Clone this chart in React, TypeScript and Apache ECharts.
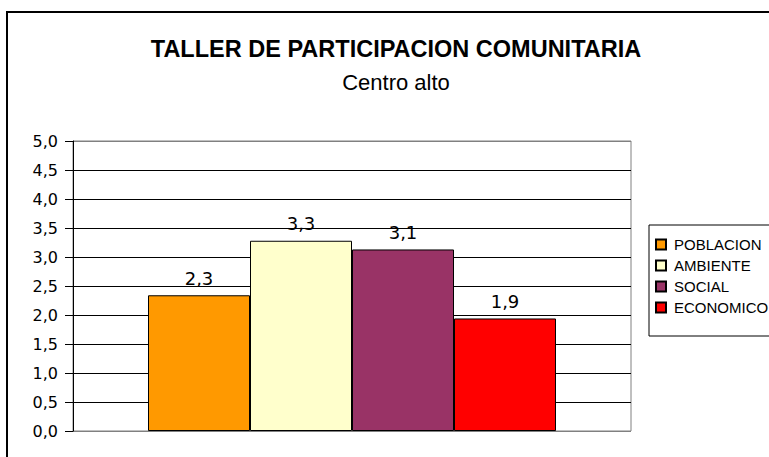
import React, { useEffect, useRef } from "react";
import * as echarts from "echarts";

const seriesNames = ["POBLACION", "AMBIENTE", "SOCIAL", "ECONOMICO"];
const seriesValues = [2.34, 3.28, 3.13, 1.94];
const seriesColors = ["#FF9900", "#FFFFCC", "#993366", "#FF0000"];
const categories = [""];
const titleText = "TALLER DE PARTICIPACION COMUNITARIA";
const subtitleText = "Centro alto";

const fmt = (v: number) => v.toFixed(1).replace(".", ",");

export default function App() {
  const ref = useRef<HTMLDivElement>(null);
  useEffect(() => {
    document.documentElement.style.overflow = "hidden";
    document.body.style.overflow = "hidden";
    const chart = echarts.init(ref.current!, undefined, { renderer: "svg" });
    const font = "'Liberation Sans', Arial, sans-serif";
    const numFont = "'DejaVu Sans', sans-serif";
    const gridColors = Array.from({ length: 11 }, (_, i) => (i === 0 || i === 10 ? "#808080" : "#000000"));
    chart.setOption({
      animation: false,
      backgroundColor: "#ffffff",
      textStyle: { fontFamily: font },
      graphic: [
        {
          type: "rect",
          shape: { x: 7, y: 12, width: 820, height: 520 },
          style: { fill: "none", stroke: "#000", lineWidth: 2 },
          silent: true,
        },
      ],
      title: {
        text: titleText,
        subtext: subtitleText,
        left: 391,
        textAlign: "center",
        top: 32,
        itemGap: 10,
        textStyle: { fontFamily: font, fontSize: 23.5, fontWeight: "bold", color: "#000" },
        subtextStyle: { fontFamily: font, fontSize: 22, color: "#000" },
      },
      legend: {
        orient: "vertical",
        left: 649,
        top: 225,
        borderColor: "#000",
        borderWidth: 1,
        padding: [12, 40, 21, 6],
        itemWidth: 10,
        itemHeight: 10,
        itemGap: 6,
        icon: "rect",
        textStyle: { fontFamily: font, fontSize: 15, color: "#000", padding: [0, 0, 0, 3] },
        data: seriesNames,
      },
      grid: {
        left: 73,
        top: 141,
        width: 558,
        height: 290,
        show: true,
        borderColor: "#808080",
        borderWidth: 1,
        containLabel: false,
      },
      xAxis: {
        type: "category",
        data: categories,
        axisLine: { show: false },
        axisTick: { show: false },
        axisLabel: { show: false },
        splitLine: { show: false },
      },
      yAxis: {
        type: "value",
        min: 0,
        max: 5,
        interval: 0.5,
        axisLine: { show: true, lineStyle: { color: "#000", width: 1 } },
        axisTick: { show: true, length: 8, lineStyle: { color: "#000" } },
        axisLabel: { formatter: (v: number) => fmt(v), fontSize: 16, color: "#000", margin: 15, fontFamily: numFont },
        splitLine: { show: true, lineStyle: { color: gridColors, width: 1 } },
      },
      series: seriesNames.map((name, i) => ({
        name,
        type: "bar",
        data: [seriesValues[i]],
        barWidth: 102,
        barGap: "0%",
        itemStyle: { color: seriesColors[i], borderColor: "#000", borderWidth: 1 },
        label: {
          show: true,
          position: "top",
          distance: 8,
          fontSize: 18,
          color: "#000",
          fontFamily: numFont,
          formatter: (p: any) => fmt(p.value),
        },
      })),
    });
    return () => chart.dispose();
  }, []);
  return (
    <div
      ref={ref}
      style={{ position: "fixed", left: 0, top: 0, width: 830, height: 480 }}
    />
  );
}
